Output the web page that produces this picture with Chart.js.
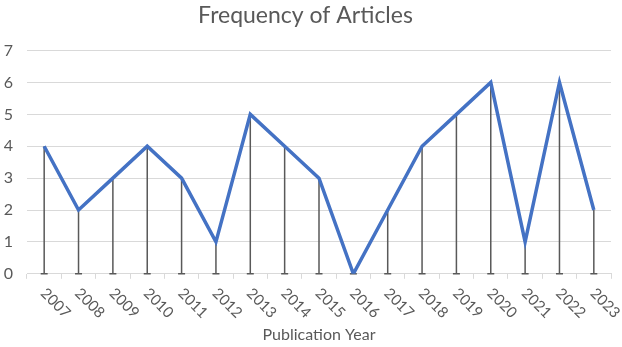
<!DOCTYPE html>
<html>
<head>
<meta charset="utf-8">
<script src="https://cdn.jsdelivr.net/npm/chart.js@4/dist/chart.umd.min.js"></script>
<style>
html,body{margin:0;padding:0;background:#fff;}
#wrap{width:622px;height:347px;position:relative;}
</style>
</head>
<body>
<div id="wrap"><canvas id="c" width="622" height="347"></canvas></div>
<script>
const years = ['2007','2008','2009','2010','2011','2012','2013','2014','2015','2016','2017','2018','2019','2020','2021','2022','2023'];
const articleCounts = [4,2,3,4,3,1,5,4,3,0,2,4,5,6,1,6,2];
const yTickValues = [0,1,2,3,4,5,6,7];

const FONT = 'Lato, "Open Sans", sans-serif';
const TEXT = '#595959';

const dropLines = {
  id: 'dropLines',
  beforeDatasetsDraw(chart) {
    const ctx = chart.ctx, xs = chart.scales.x, ys = chart.scales.y;
    const y0 = ys.getPixelForValue(0);
    ctx.save();
    ctx.strokeStyle = '#595959';
    ctx.lineWidth = 1.5;
    articleCounts.forEach((v, i) => {
      const x = xs.getPixelForValue(i);
      const y = ys.getPixelForValue(v);
      ctx.beginPath();
      ctx.moveTo(x, y); ctx.lineTo(x, y0);
      ctx.moveTo(x - 3.5, y0); ctx.lineTo(x + 3.5, y0);
      ctx.stroke();
    });
    ctx.restore();
  },
  afterDraw(chart) {
    const ctx = chart.ctx, xs = chart.scales.x, ys = chart.scales.y;
    const y0 = ys.getPixelForValue(0);
    ctx.save();
    ctx.fillStyle = TEXT;
    ctx.font = '15px ' + FONT;
    ctx.textAlign = 'left';
    ctx.textBaseline = 'middle';
    years.forEach((lab, i) => {
      const x = xs.getPixelForValue(i);
      ctx.save();
      ctx.translate(x - 1, y0 + 17);
      ctx.rotate(Math.PI / 4);
      ctx.fillText(lab, 0, 0);
      ctx.restore();
    });
    ctx.restore();
  }
};

new Chart(document.getElementById('c'), {
  type: 'line',
  data: {
    labels: years,
    datasets: [{
      data: articleCounts,
      borderColor: '#4472C4',
      borderWidth: 3.5,
      pointRadius: 0,
      tension: 0,
      borderJoinStyle: 'miter',
      fill: false
    }]
  },
  options: {
    responsive: false,
    animation: false,
    layout: { padding: { left: 0, right: 11, top: 0, bottom: 0 } },
    plugins: {
      legend: { display: false },
      tooltip: { enabled: false },
      title: {
        display: true,
        text: 'Frequency of Articles',
        color: TEXT,
        font: { family: FONT, size: 23, weight: 'normal' },
        padding: { top: 2, bottom: 21 }
      }
    },
    scales: {
      x: {
        type: 'category',
        offset: true,
        grid: { offset: true, drawOnChartArea: false, drawTicks: true, tickLength: 5, color: '#d9d9d9' },
        border: { color: '#d9d9d9' },
        ticks: { display: false },
        title: {
          display: true,
          text: 'Publication Year',
          color: TEXT,
          font: { family: FONT, size: 16 },
          padding: { top: 46, bottom: 3 }
        }
      },
      y: {
        min: 0, max: 7,
        afterBuildTicks(scale) { scale.ticks = yTickValues.map(v => ({ value: v })); },
        grid: { color: '#d9d9d9', drawTicks: false },
        border: { display: false },
        ticks: { color: TEXT, font: { family: FONT, size: 16 }, padding: 14 },
        afterFit(scale) { scale.width = 27; }
      }
    }
  },
  plugins: [dropLines]
});
</script>
</body>
</html>
